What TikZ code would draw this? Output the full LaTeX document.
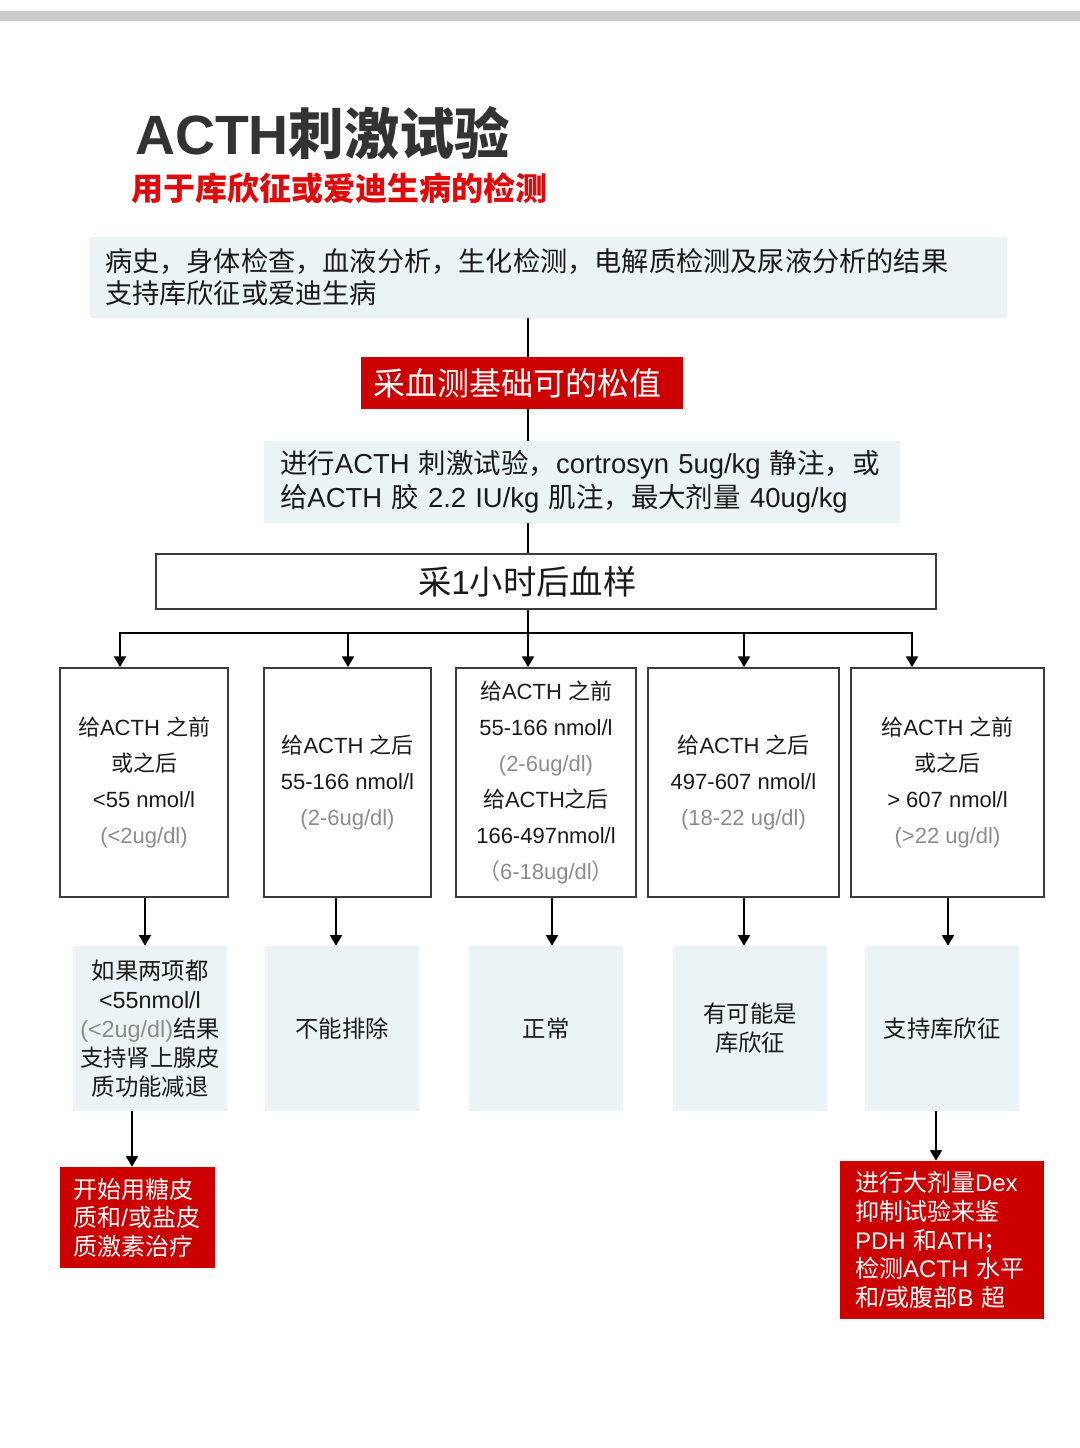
\documentclass[tikz,border=0pt]{standalone}
\usepackage{fontspec}
\setmainfont{Liberation Sans}
\newfontfamily\cjk{Noto Sans CJK SC}
\usepackage{xcolor}
\usepackage{tikz}
\usetikzlibrary{
  arrows.meta,
  positioning,
  calc
}
% switch to the CJK family for every run of Chinese characters
\XeTeXinterchartokenstate=1
\newXeTeXintercharclass\cjkclass
\newcount\cjkcode
\def\setcjkrange#1#2{\cjkcode=#1\relax
  \loop\XeTeXcharclass\cjkcode=\cjkclass
  \ifnum\cjkcode<#2\relax\advance\cjkcode by 1\repeat}
\setcjkrange{"3000}{"303F}
\setcjkrange{"4E00}{"9FFF}
\setcjkrange{"FF00}{"FFEF}
\XeTeXinterchartoks 0 \cjkclass={\cjk}
\XeTeXinterchartoks 4095 \cjkclass={\cjk}
\XeTeXinterchartoks \cjkclass 0={\rmfamily}
\XeTeXinterchartoks \cjkclass 4095={\rmfamily}

\definecolor{acLight}{HTML}{EAF4F6}
\definecolor{acRed}{HTML}{CC0000}
\definecolor{acTitleRed}{HTML}{E00A0A}
\definecolor{acInk}{HTML}{333333}
\definecolor{acText}{HTML}{1A1A1A}
\definecolor{acGray}{HTML}{8C8C8C}
\definecolor{acBar}{HTML}{CCCCCC}
\definecolor{acEdge}{HTML}{3C3C3C}
\newcommand{\gry}[1]{\textcolor{acGray}{#1}}

\tikzset{
  acnode/.style={inner sep=0pt, align=center, text=acText},
  infobox/.style={acnode, fill=acLight},
  redbox/.style={acnode, fill=acRed, text=white},
  rangebox/.style={acnode, draw=acEdge, line width=1.5pt, minimum height=171.75pt,
    font=\fontsize{16.5}{27}\selectfont},
  resbox/.style={infobox, minimum width=115.5pt, minimum height=123.75pt,
    font=\fontsize{17.5}{21.75}\selectfont},
  treatbox/.style={redbox, align=left, font=\fontsize{18}{21.5}\selectfont},
  link/.style={line width=1.4pt, black},
  arr/.style={link, -{Triangle[length=8pt, width=9pt]}}
}

\begin{document}
\begin{tikzpicture}[x=0.75pt, y=-0.75pt]
  \useasboundingbox (0,0) rectangle (1080,1448);
  \fill[acBar] (0,11) rectangle (1080,21);
  % heading
  \node[anchor=base west, inner sep=0pt, text=acInk, font=\fontsize{41.5}{48}\selectfont\bfseries] (title) at (135,155) {ACTH刺激试验};
  \node[anchor=base west, inner sep=0pt, text=acTitleRed, font=\fontsize{24}{28}\selectfont\bfseries] (sub) at (131,201) {用于库欣征或爱迪生病的检测};
  % upper chain
  \node[infobox, minimum height=60.75pt, inner xsep=11.25pt, text width=665.25pt, align=left,
        font=\fontsize{20.4}{24}\selectfont] (hist) at (548.5,277.5)
        {病史，身体检查，血液分析，生化检测，电解质检测及尿液分析的结果\\支持库欣征或爱迪生病};
  \node[redbox, minimum width=241.5pt, minimum height=39pt, font=\fontsize{24}{28}\selectfont] (base) at (522,383) {采血测基础可的松值\hspace*{7pt}};
  \node[infobox, minimum height=61.5pt, inner xsep=12pt, text width=453pt, align=left,
        font=\fontsize{20.6}{25.5}\selectfont] (stim) at (582,482)
        {进行ACTH 刺激试验，cortrosyn 5ug/kg 静注，或\\给ACTH 胶 2.2 IU/kg 肌注，最大剂量 40ug/kg};
  \node[acnode, draw=acEdge, line width=1.5pt, minimum width=585pt, minimum height=41.25pt,
        font=\fontsize{25}{30}\selectfont] (samp) at (546,581.5) {采1小时后血样\hspace*{28pt}};
  % cortisol ranges
  \node[rangebox, minimum width=126pt] (r1) at (144,782.5) {给ACTH 之前\\或之后\\<55 nmol/l\\\gry{(<2ug/dl)}};
  \node[rangebox, minimum width=125.25pt] (r2) at (347.5,782.5) {给ACTH 之后\\55-166 nmol/l\\\gry{(2-6ug/dl)}};
  \node[rangebox, minimum width=135pt] (r3) at (546,782.5) {给ACTH 之前\\55-166 nmol/l\\\gry{(2-6ug/dl)}\\给ACTH之后\\166-497nmol/l\\\gry{（6-18ug/dl）}};
  \node[rangebox, minimum width=143.25pt] (r4) at (743.5,782.5) {给ACTH 之后\\497-607 nmol/l\\\gry{(18-22 ug/dl)}};
  \node[rangebox, minimum width=144.75pt] (r5) at (947.5,782.5) {给ACTH 之前\\或之后\\> 607 nmol/l\\\gry{(>22 ug/dl)}};
  % interpretation
  \node[resbox] (s1) at (150,1028.5) {如果两项都\\<55nmol/l\\\gry{(<2ug/dl)}结果\\支持肾上腺皮\\质功能减退};
  \node[resbox] (s2) at (342,1028.5) {不能排除};
  \node[resbox] (s3) at (546,1028.5) {正常};
  \node[resbox] (s4) at (750,1028.5) {有可能是\\库欣征};
  \node[resbox] (s5) at (942,1028.5) {支持库欣征};
  % next steps
  \node[treatbox, minimum height=75.75pt, inner xsep=10pt, text width=96.25pt] (t1) at (137.5,1217.5) {开始用糖皮\\质和/或盐皮\\质激素治疗};
  \node[treatbox, minimum height=118.5pt, inner xsep=11.25pt, text width=130.5pt] (t5) at (942,1240) {进行大剂量Dex\\抑制试验来鉴\\PDH 和ATH；\\检测ACTH 水平\\和/或腹部B 超};
  % connectors
  \coordinate (spine) at (528,0);
  \coordinate (busL) at (120,633);
  \coordinate (busR) at (912,633);
  \draw[link] (hist.south -| spine) -- (base.north -| spine);
  \draw[link] (base.south -| spine) -- (stim.north -| spine);
  \draw[link] (stim.south -| spine) -- (samp.north -| spine);
  \draw[link] (samp.south -| spine) -- (busL -| spine);
  \draw[link, line cap=rect] (busL) -- (busR);
  \foreach \x/\n in {120/r1, 348/r2, 528/r3, 744/r4, 912/r5}
    \draw[arr] (busL -| \x,0) -- (\n.north -| \x,0);
  \foreach \a/\b/\x in {r1/s1/145, r2/s2/336, r3/s3/552, r4/s4/744, r5/s5/948}
    \draw[arr] (\a.south -| \x,0) -- (\b.north -| \x,0);
  \draw[arr] (s1.south -| 132,0) -- (t1.north -| 132,0);
  \draw[arr] (s5.south -| 936,0) -- (t5.north -| 936,0);
\end{tikzpicture}
\end{document}
